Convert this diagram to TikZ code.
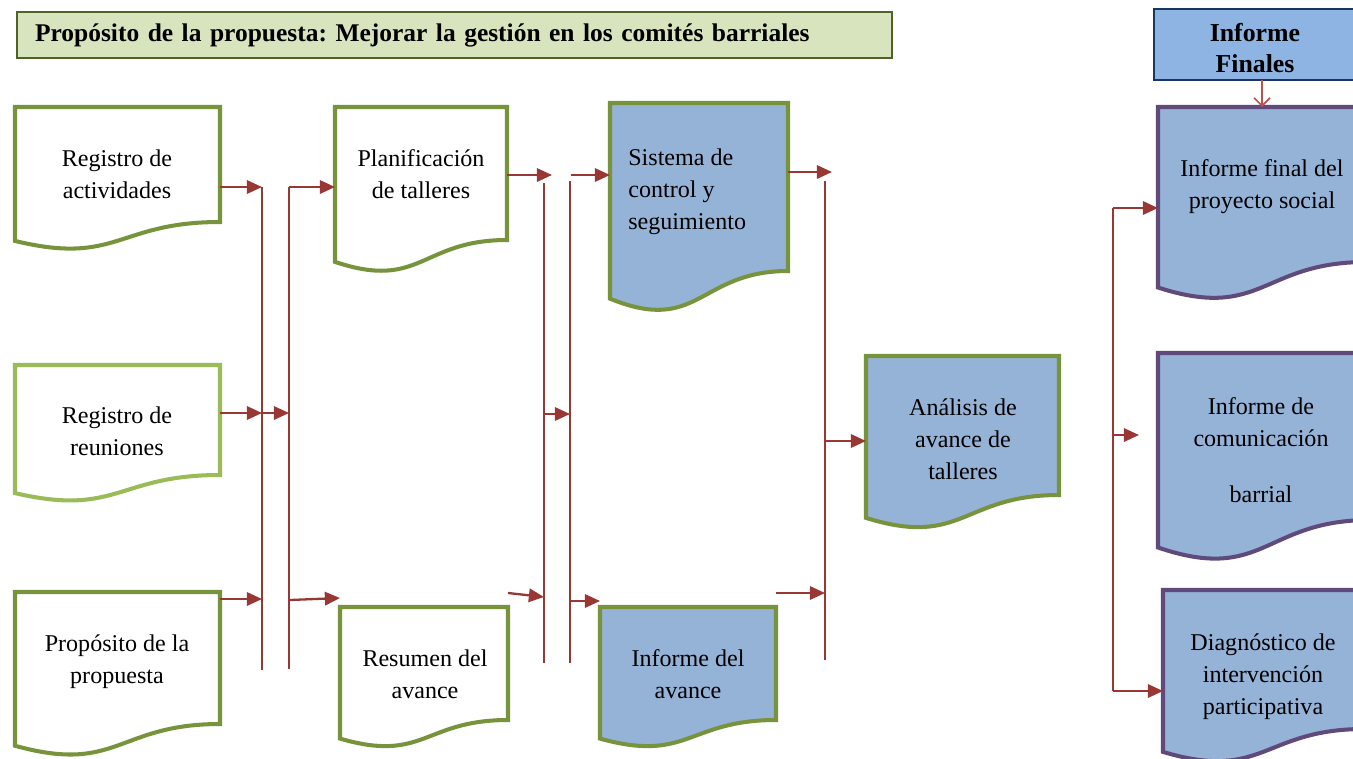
\documentclass[tikz,border=0pt]{standalone}
\usepackage{fontspec}
\setmainfont{Liberation Serif}
\usepackage{tikz}
\usetikzlibrary{calc}
\usetikzlibrary{arrows.meta,positioning}
\frenchspacing

\definecolor{oliveg}{RGB}{119,147,60}
\definecolor{lightg}{RGB}{155,187,89}
\definecolor{docblue}{RGB}{149,179,215}
\definecolor{headblue}{RGB}{141,180,226}
\definecolor{headline}{RGB}{23,55,94}
\definecolor{purp}{RGB}{96,74,123}
\definecolor{arrred}{RGB}{152,55,52}
\definecolor{softred}{RGB}{192,80,77}
\definecolor{titlefill}{RGB}{215,228,189}
\definecolor{titleline}{RGB}{79,98,40}

\def\pxu{0.02cm}
\newcommand{\doctext}{\fontsize{13.7}{18.2}\selectfont}
\newcommand{\docout}[2]{%
  \filldraw[#2] (#1.north west) -- (#1.north east) -- (#1.south east)
    .. controls (#1.south) and ($(#1.south)!-0.381!(#1.north)$)
    .. ($(#1.south west)!-0.1646!(#1.north west)$) -- cycle;}

\tikzset{
  docframe/.style={rectangle,inner sep=0pt,outer sep=0pt,anchor=north west},
  docg/.style={draw=oliveg,line width=2.3pt,fill=white},
  docl/.style={draw=lightg,line width=2.3pt,fill=white},
  docb/.style={draw=oliveg,line width=2.3pt,fill=docblue},
  docp/.style={draw=purp,line width=2.3pt,fill=docblue},
  txt/.style={align=center,font=\doctext,inner sep=0pt},
  bus/.style={draw=arrred,line width=1.2pt},
  arr/.style={draw=arrred,line width=1.3pt,-{Triangle[length=8.6pt,width=7.6pt]}},
}

\begin{document}
\begin{tikzpicture}[x=0.02cm,y=-0.02cm]
    \useasboundingbox (0,0) rectangle (1353,758);
    \clip (0,0) rectangle (1353,758);

    \node[docframe,draw=titleline,line width=0.6pt,fill=titlefill,
      minimum height=46*\pxu,inner xsep=18*\pxu,text width=839*\pxu,align=left,
      font=\bfseries\fontsize{14.5}{17}\selectfont] (title) at (17,12)
      {\raisebox{-2pt}{Propósito de la propuesta: Mejorar la gestión en los comités barriales}};
    \node[docframe,draw=headline,line width=0.6pt,fill=headblue,
      minimum width=204*\pxu,minimum height=71*\pxu] (finales) at (1154,9) {};
    \node[txt,font=\bfseries\fontsize{14.7}{17.4}\selectfont] (finales-t) at (1255,48) {Informe\\Finales};

    \node[docframe,minimum width=205*\pxu,minimum height=115*\pxu] (act) at (15,107) {};
    \node[docframe,minimum width=205*\pxu,minimum height=110*\pxu] (reu) at (15,365) {};
    \node[docframe,minimum width=205*\pxu,minimum height=132*\pxu] (prop) at (15,592) {};
    \node[docframe,minimum width=172*\pxu,minimum height=133*\pxu] (plan) at (335,107) {};
    \node[docframe,minimum width=168*\pxu,minimum height=113*\pxu] (res) at (340,607) {};
    \node[docframe,minimum width=178*\pxu,minimum height=168*\pxu] (sis) at (610,103) {};
    \node[docframe,minimum width=176*\pxu,minimum height=113*\pxu] (avn) at (600,607) {};
    \node[docframe,minimum width=193*\pxu,minimum height=139*\pxu] (ana) at (866,356) {};
    \node[docframe,minimum width=208*\pxu,minimum height=155*\pxu] (fin) at (1158,107) {};
    \node[docframe,minimum width=212*\pxu,minimum height=167*\pxu] (com) at (1158,353) {};
    \node[docframe,minimum width=201*\pxu,minimum height=139*\pxu] (dia) at (1163,590) {};

    \foreach \n/\s in {act/docg,reu/docl,prop/docg,plan/docg,res/docg,sis/docb,avn/docb,ana/docb,fin/docp,com/docp,dia/docp}
      \docout{\n}{\s};

    \node[txt] (act-t) at (117,174) {Registro de\\actividades};
    \node[txt] (reu-t) at (117,431) {Registro de\\reuniones};
    \node[txt] (prop-t) at (117,662) {Propósito de la\\propuesta};
    \node[txt] (plan-t) at (421,174) {Planificación\\de talleres};
    \node[txt] (res-t) at (425,674) {Resumen del\\avance};
    \node[txt,align=left,anchor=west] (sis-t) at (628,192) {Sistema de\\control y\\seguimiento};
    \node[txt] (avn-t) at (688,674) {Informe del\\avance};
    \node[txt] (ana-t) at (963,439) {Análisis de\\avance de\\talleres};
    \node[txt] (fin-t) at (1262,187) {Informe final del\\proyecto social};
    \node[txt] (com-t) at (1261,450) {Informe de\\comunicación\\[14pt]barrial};
    \node[txt] (dia-t) at (1263,677) {Diagnóstico de\\intervención\\participativa};

    \coordinate (a1) at (262,187);
    \coordinate (a2) at (262,670);
    \coordinate (b1) at (289,187);
    \coordinate (b2) at (289,669);
    \coordinate (c1) at (544,183);
    \coordinate (c2) at (544,663);
    \coordinate (d1) at (570,181);
    \coordinate (d2) at (570,663);
    \coordinate (e1) at (825,181);
    \coordinate (e2) at (825,660);
    \coordinate (f1) at (1113,208);
    \coordinate (f2) at (1113,691);
    \foreach \b in {a,b,c,d,e,f}
      \draw[bus] (\b1) -- (\b2);

    \coordinate (am) at (262,413);
    \coordinate (ab) at (262,599);
    \coordinate (bb) at (290,600);
    \coordinate (pl-end) at (552,175);
    \coordinate (d0) at (571,175);
    \coordinate (cm) at (543,414);
    \coordinate (cb) at (544,597);
    \coordinate (db) at (571,601);
    \coordinate (si-end) at (832,172);
    \coordinate (em) at (825,441);
    \coordinate (eb) at (825,593);
    \coordinate (fm-end) at (1139,435);

    \draw[arr] (act.east |- a1) -- (a1);
    \draw[arr] (reu.east |- am) -- (am);
    \draw[arr] (prop.east |- ab) -- (ab);
    \draw[arr] (am) -- (b1 |- am);
    \draw[arr] (b1) -- (b1 -| plan.west);
    \draw[arr] (bb) -- ($(res.north west)+(0,-9)$);
    \draw[arr] (plan.east |- pl-end) -- (pl-end);
    \draw[arr] (d0) -- (d0 -| sis.west);
    \draw[arr] (cm) -- (cm -| d1);
    \draw[arr] ($(res.north east)+(0,-14)$) -- (cb);
    \draw[arr] (db) -- ($(avn.north west)+(0,-6)$);
    \draw[arr] (sis.east |- si-end) -- (si-end);
    \draw[arr] (em) -- (em -| ana.west);
    \draw[arr] (avn.east |- eb) -- (eb);
    \draw[arr] (f1) -- (f1 -| fin.west);
    \draw[arr] (f1 |- fm-end) -- (fm-end);
    \draw[arr] (f2) -- (f2 -| dia.west);
    \draw[draw=softred,line width=1pt,-{Straight Barb[length=4.5pt,width=9pt]}]
      (finales.south -| fin-t) -- (fin.north -| fin-t);
\end{tikzpicture}
\end{document}
